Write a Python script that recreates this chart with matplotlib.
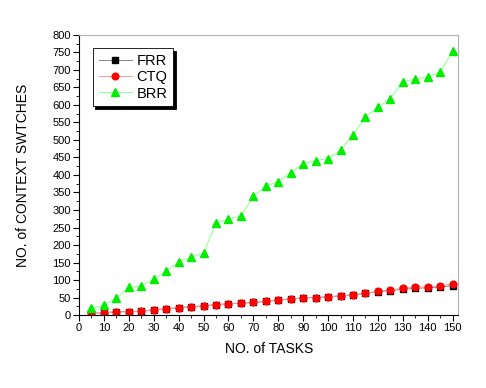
import numpy as np
import matplotlib
matplotlib.use("Agg")
import matplotlib.pyplot as plt
from matplotlib.ticker import MultipleLocator

plt.rcParams['font.family'] = ['Liberation Sans', 'DejaVu Sans']

# number of tasks
tasks = list(range(5, 155, 5))

# context switches per scheduler
frr = [5, 7, 9, 10, 11, 15, 18, 21, 24, 26, 30, 32, 34, 36, 39,
       43, 46, 49, 50, 52, 55, 58, 62, 67, 70, 74, 76, 78, 80, 84]
ctq = [5, 7, 9, 10, 11, 15, 18, 21, 24, 26, 30, 32, 34, 36, 39,
       43, 46, 49, 50, 52, 55, 58, 62, 68, 71, 77, 80, 81, 83, 89]
brr = [19, 28, 48, 79, 83, 103, 126, 151, 166, 176, 263, 274, 282, 339, 368,
       381, 407, 432, 441, 447, 470, 515, 566, 593, 618, 666, 674, 680, 694, 753]

fig = plt.figure(figsize=(4.86, 3.88), dpi=100)
ax = fig.add_axes([0.1626, 0.188, 0.7804, 0.722])

ax.plot(tasks, frr, color='#888888', lw=0.7, marker='s', ms=4,
        mfc='black', mec='black', label='FRR')
ax.plot(tasks, ctq, color='#ff9999', lw=0.7, marker='o', ms=4.8,
        mfc='red', mec='red', label='CTQ')
ax.plot(tasks, brr, color='#99ff99', lw=0.8, marker='^', ms=5.5,
        mfc='#00ee00', mec='#00ee00', label='BRR')

ax.set_xlim(0, 152.3)
ax.set_ylim(0, 800)
ax.xaxis.set_major_locator(MultipleLocator(10))
ax.xaxis.set_minor_locator(MultipleLocator(5))
ax.yaxis.set_major_locator(MultipleLocator(50))
ax.yaxis.set_minor_locator(MultipleLocator(25))
ax.tick_params(which='both', direction='out', labelsize=8, top=False, right=False)
ax.tick_params(which='major', length=4)
ax.tick_params(which='minor', length=2.5)
ax.tick_params(axis='both', pad=2)

for s in ['top', 'right']:
    ax.spines[s].set_color('#b0b0b0')
for s in ['left', 'bottom']:
    ax.spines[s].set_color('black')

ax.set_xlabel('NO. of TASKS', fontsize=10, labelpad=6)
ax.set_ylabel('NO. of CONTEXT SWTCHES', fontsize=10, labelpad=16)

leg = ax.legend(loc='upper left', bbox_to_anchor=(0.036, 0.952), fontsize=10.5,
                fancybox=False, shadow={'color': 'black', 'alpha': 1},
                framealpha=1, edgecolor='black',
                borderpad=0.4, labelspacing=0.15, handlelength=2.3, handletextpad=0.3,
                borderaxespad=0)
leg.get_frame().set_linewidth(0.6)

fig.savefig('out.png', dpi=100)
